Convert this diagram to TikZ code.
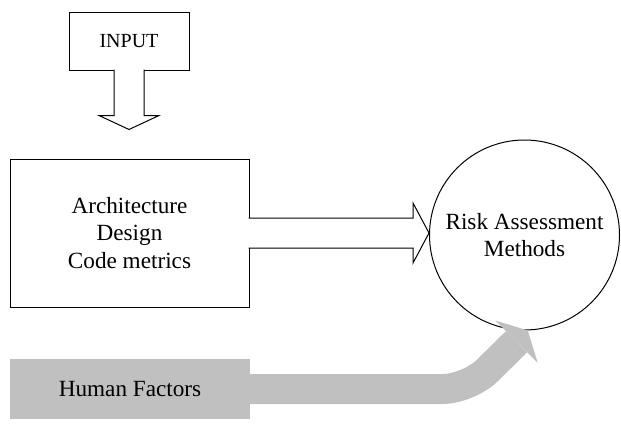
\documentclass[tikz,border=0pt]{standalone}
\usepackage{fontspec}
\setmainfont{Liberation Serif}
\usetikzlibrary{calc}

\definecolor{hfgray}{RGB}{192,192,192}

\tikzset{
  box/.style={draw, line width=0.5pt, align=center, font=\fontsize{11.6}{13.8}\selectfont},
  hollow/.style={draw, line width=0.5pt, fill=white, line join=miter},
}

\begin{document}
\begin{tikzpicture}[x=0.5pt, y=-0.5pt]
  \useasboundingbox (0,0) rectangle (621,423);

  % blocks
  \node[box, minimum width=60pt, minimum height=29pt, font=\fontsize{10}{12}\selectfont] (input) at (129,41) {INPUT};
  \node[box, minimum width=119.5pt, minimum height=74pt] (arch) at (129.5,233) {Architecture\\Design\\Code metrics};
  \node[box, circle, minimum size=95pt] (risk) at (524.5,235) {Risk Assessment\\Methods};
  \node[fill=hfgray, minimum width=120pt, minimum height=30pt, font=\fontsize{11.6}{13.8}\selectfont] (human) at (130,389) {Human Factors};

  % input arrow (down)
  \coordinate (drop) at ($(input.south)+(0,59)$);
  \draw[hollow] ($(input.south)+(-15,-1)$) -- ++(0,46) -- ++(-15,0) -- (drop)
    -- ++(30,-14) -- ++(-15,0) -- ($(input.south)+(15,-1)$);

  % arch -> risk
  \coordinate (tip) at (risk.west |- arch.east);
  \draw[hollow] ($(arch.east)+(-1,-15)$) -- ($(tip)+(-16,-15)$) -- ++(0,-15) -- (tip)
    -- ++(-16,30) -- ++(0,-15) -- ($(arch.east)+(-1,15)$);

  % human factors -> risk
  \coordinate (hftip) at (risk.-88);
  \coordinate (hfbase) at ($(hftip)+(-11.3,11.3)$);
  \coordinate (bend) at ($(hfbase)+(-48,48)$);
  \draw[hfgray, line width=15pt, rounded corners=13pt] ($(human.east)+(-2,0)$) -- (human.east -| bend) -- (hfbase);
  \fill[hfgray] ($(hfbase)+(-21.2,-21.2)$) -- (hftip) -- ($(hfbase)+(21.2,21.2)$) -- cycle;
\end{tikzpicture}
\end{document}
